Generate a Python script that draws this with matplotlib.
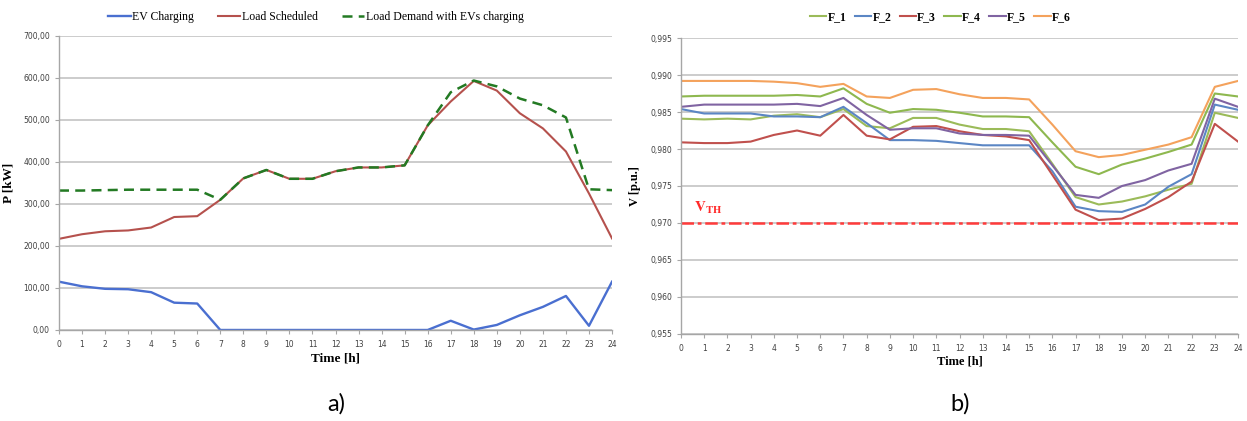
import matplotlib
matplotlib.use("Agg")
import matplotlib.pyplot as plt
from matplotlib.ticker import FuncFormatter, MultipleLocator

plt.rcParams['mathtext.fontset'] = 'stix'

hours = list(range(25))

# Panel a): power profiles [kW]
ev_charging = [115, 104, 98, 97, 90, 65, 63, 0, 0, 0, 0, 0, 0, 0, 0, 0, 0,
               22, 1, 12, 35, 55, 81, 10, 115]
load_scheduled = [217, 228, 235, 237, 244, 269, 271, 310, 361, 381, 360, 360,
                  378, 387, 387, 392, 487, 544, 593, 570, 516, 480, 425, 325, 218]
load_demand = [332, 332, 333, 334, 334, 334, 334, 310, 361, 381, 360, 360,
               378, 387, 387, 392, 487, 566, 594, 580, 551, 535, 506, 335, 333]

# Panel b): feeder voltages [p.u.]
f1 = [0.9841, 0.9840, 0.9841, 0.9840, 0.9845, 0.9847, 0.9843, 0.9854, 0.9831,
      0.9828, 0.9842, 0.9842, 0.9833, 0.9827, 0.9827, 0.9824, 0.9780, 0.9735,
      0.9725, 0.9729, 0.9736, 0.9745, 0.9753, 0.9849, 0.9842]
f2 = [0.9854, 0.9848, 0.9848, 0.9848, 0.9844, 0.9844, 0.9843, 0.9857, 0.9835,
      0.9812, 0.9812, 0.9811, 0.9808, 0.9805, 0.9805, 0.9805, 0.9770, 0.9722,
      0.9716, 0.9715, 0.9725, 0.9749, 0.9766, 0.9860, 0.9853]
f3 = [0.9809, 0.9808, 0.9808, 0.9810, 0.9819, 0.9825, 0.9818, 0.9846, 0.9818,
      0.9813, 0.9830, 0.9831, 0.9824, 0.9819, 0.9817, 0.9812, 0.9765, 0.9718,
      0.9704, 0.9706, 0.9719, 0.9735, 0.9756, 0.9834, 0.9810]
f4 = [0.9871, 0.9872, 0.9872, 0.9872, 0.9872, 0.9873, 0.9871, 0.9882, 0.9861,
      0.9849, 0.9854, 0.9853, 0.9849, 0.9844, 0.9844, 0.9843, 0.9809, 0.9776,
      0.9766, 0.9779, 0.9787, 0.9796, 0.9806, 0.9875, 0.9871]
f5 = [0.9857, 0.9860, 0.9860, 0.9860, 0.9860, 0.9861, 0.9858, 0.9869, 0.9846,
      0.9826, 0.9828, 0.9828, 0.9821, 0.9819, 0.9819, 0.9818, 0.9778, 0.9738,
      0.9734, 0.9750, 0.9758, 0.9771, 0.9780, 0.9868, 0.9857]
f6 = [0.9892, 0.9892, 0.9892, 0.9892, 0.9891, 0.9889, 0.9884, 0.9888, 0.9871,
      0.9869, 0.9880, 0.9881, 0.9874, 0.9869, 0.9869, 0.9867, 0.9833, 0.9797,
      0.9789, 0.9792, 0.9799, 0.9806, 0.9816, 0.9884, 0.9892]
feeder_names = ['F_1', 'F_2', 'F_3', 'F_4', 'F_5', 'F_6']
v_threshold = 0.970

SERIF = 'Liberation Serif'
GRID = '#c4c4c4'
SPINE = '#a6a6a6'
TICK_TXT = '#404040'

fig = plt.figure(figsize=(12.47, 4.21), dpi=100)
ax1 = fig.add_axes([0.0473, 0.2162, 0.4435, 0.6983])
ax2 = fig.add_axes([0.5461, 0.2067, 0.4467, 0.7030])


def style_axes(ax):
    for s in ('top', 'right'):
        ax.spines[s].set_visible(False)
    for s in ('left', 'bottom'):
        ax.spines[s].set_color(SPINE)
        ax.spines[s].set_linewidth(1.0)
    ax.grid(axis='y', color=GRID, linewidth=1.2)
    ax.set_axisbelow(True)
    ax.set_xlim(0, 24)
    ax.xaxis.set_major_locator(MultipleLocator(1))
    ax.tick_params(axis='both', colors=SPINE, labelcolor=TICK_TXT,
                   labelsize=5.5, length=3, width=0.8, direction='out')
    ax.tick_params(axis='x', pad=4)


# ---- a) power ----
style_axes(ax1)
ax1.plot(hours, ev_charging, color='#4a6fd0', lw=1.7, label='EV Charging')
ax1.plot(hours, load_scheduled, color='#b5514d', lw=1.5, label='Load Scheduled')
ax1.plot(hours, load_demand, color='#237a23', lw=1.8, ls=(0, (4, 2.5)),
         label='Load Demand with EVs charging')
ax1.set_ylim(0, 700)
ax1.yaxis.set_major_locator(MultipleLocator(100))
ax1.yaxis.set_major_formatter(FuncFormatter(lambda v, p: f"{v:.2f}".replace('.', ',')))
ax1.set_xlabel('Time [h]', fontfamily=SERIF, fontweight='bold', fontsize=9.5,
               labelpad=3)
ax1.set_ylabel('P [kW]', fontfamily=SERIF, fontweight='bold', fontsize=9.5)
ax1.yaxis.set_label_coords(-0.080, 0.5)
ax1.legend(loc='center', bbox_to_anchor=(0.2534, 0.96), bbox_transform=fig.transFigure,
           ncol=3, frameon=False, prop={'family': SERIF, 'size': 8.5},
           handlelength=1.9, handletextpad=0.15, columnspacing=2.0)

# ---- b) voltage ----
style_axes(ax2)
colors = ['#9bbb59', '#5b86c4', '#c0504d', '#8eb84f', '#8064a2', '#f4a25c']
for vals, name, c in zip([f1, f2, f3, f4, f5, f6], feeder_names, colors):
    ax2.plot(hours, vals, color=c, lw=1.5, label=name)
ax2.axhline(v_threshold, color='#ff3b3b', lw=1.8, ls=(0, (5, 1.5, 1.5, 1.5)))
ax2.text(0.55, v_threshold + 0.0009, r'$\mathbf{V}_{\mathbf{TH}}$', color='#ff2a2a',
         fontsize=11, va='bottom', ha='left')
ax2.set_ylim(0.955, 0.995)
ax2.yaxis.set_major_locator(MultipleLocator(0.005))
ax2.yaxis.set_major_formatter(FuncFormatter(lambda v, p: f"{v:.3f}".replace('.', ',')))
ax2.set_xlabel('Time [h]', fontfamily=SERIF, fontweight='bold', fontsize=9,
               labelpad=2)
ax2.set_ylabel('V [p.u.]', fontfamily=SERIF, fontweight='bold', fontsize=9)
ax2.yaxis.set_label_coords(-0.072, 0.5)
ax2.legend(loc='center', bbox_to_anchor=(0.754, 0.96), bbox_transform=fig.transFigure,
           ncol=6, frameon=False, prop={'family': SERIF, 'size': 8.5, 'weight': 'bold'},
           handlelength=1.4, handletextpad=0.1, columnspacing=0.7)

# Panel captions
fig.text(0.270, 0.040, 'a)', fontfamily='Lato', fontsize=17, ha='center', va='center')
fig.text(0.770, 0.040, 'b)', fontfamily='Lato', fontsize=17, ha='center', va='center')

fig.savefig('out.png', dpi=100, facecolor='white')
